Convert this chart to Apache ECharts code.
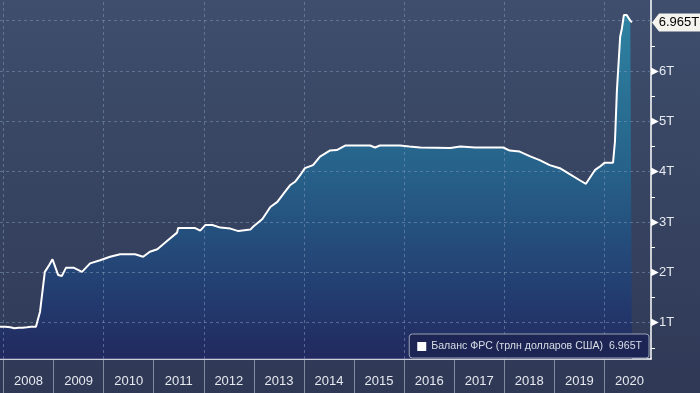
<!DOCTYPE html>
<html>
<head>
<meta charset="utf-8">
<script src="https://cdn.jsdelivr.net/npm/echarts@6/dist/echarts.min.js"></script>
<style>
html,body{margin:0;padding:0;background:#36425f;}
#c{width:700px;height:393px;}
</style>
</head>
<body>
<div id="c"></div>
<script>
// Fed balance sheet, trillions USD
const dates = [
  "2007-12-05","2008-01-15","2008-02-20","2008-03-20","2008-04-20","2008-05-20","2008-06-20","2008-07-20","2008-08-25",
  "2008-09-24","2008-10-29","2008-12-01","2008-12-24","2009-02-03","2009-03-03","2009-04-01","2009-05-30","2009-07-27",
  "2009-09-24","2009-12-06","2010-02-17","2010-05-01","2010-08-18","2010-10-16","2010-12-04","2011-01-27","2011-04-10",
  "2011-06-20","2011-06-28","2011-10-30","2011-12-06","2012-01-12","2012-03-03","2012-05-01","2012-07-13","2012-09-10",
  "2012-12-06","2012-12-28","2013-03-04","2013-05-01","2013-06-21","2013-08-15","2013-09-21","2013-10-28","2013-12-04",
  "2014-01-08","2014-03-08","2014-04-28","2014-07-08","2014-08-28","2014-10-28","2015-04-28","2015-06-03","2015-07-08",
  "2015-12-03","2016-02-08","2016-04-28","2016-12-03","2017-02-15","2017-06-03","2017-12-24","2018-02-10","2018-04-23",
  "2018-07-05","2018-09-16","2018-11-28","2019-02-10","2019-04-23","2019-07-05","2019-08-19","2019-10-23","2019-11-28",
  "2020-01-03","2020-03-04","2020-03-18","2020-04-01","2020-04-25","2020-05-08","2020-05-22","2020-06-12","2020-06-26",
  "2020-07-08","2020-07-20"
];
const values = [
  0.92,0.92,0.91,0.89,0.90,0.90,0.91,0.92,0.92,
  1.22,2.01,2.15,2.26,1.95,1.93,2.09,2.09,2.01,
  2.18,2.24,2.31,2.36,2.36,2.31,2.41,2.46,2.63,
  2.79,2.88,2.88,2.83,2.94,2.94,2.89,2.87,2.82,
  2.85,2.91,3.06,3.30,3.40,3.60,3.73,3.80,3.93,
  4.07,4.13,4.30,4.42,4.43,4.52,4.52,4.48,4.52,
  4.52,4.50,4.48,4.47,4.50,4.48,4.48,4.42,4.40,
  4.31,4.23,4.13,4.07,3.95,3.83,3.76,4.03,4.10,
  4.18,4.18,4.60,5.60,6.68,6.85,7.11,7.11,7.05,
  7.00,6.965
];
const seriesName = "Баланс ФРС (трлн долларов США)";
const lastLabel = "6.965T";
const yearTicks = [2008,2009,2010,2011,2012,2013,2014,2015,2016,2017,2018,2019,2020];
const gridYears = [2008,2010,2012,2014,2016,2018,2020];
const yLabelValues = [1,2,3,4,5,6];
const yGridValues = [1,2,3,4,5,6,7];
const yMinorTicks = [0.5,1.5,2.5,3.5,4.5,5.5,6.5];

function toYear(s){
  const d = new Date(s + "T00:00:00Z");
  const y = d.getUTCFullYear();
  const a = Date.UTC(y,0,1), b = Date.UTC(y+1,0,1);
  return y + (d.getTime() - a) / (b - a);
}
const points = dates.map((d,i) => [toYear(d), values[i]]);
const lastPoint = points[points.length - 1];
const X_MIN = 2007.93, X_MAX = 2020.93;
const FONT = "Liberation Sans";

const chart = echarts.init(document.getElementById('c'));
chart.setOption({
  animation: false,
  backgroundColor: {type:'linear', x:0, y:0, x2:0, y2:1, colorStops:[
    {offset:0, color:'#3e4e6c'}, {offset:1, color:'#2f3956'}]},
  textStyle: {fontFamily: FONT},
  grid: {left:0, right:49, top:0, bottom:34, containLabel:false},
  xAxis: {
    type:'value', min:X_MIN, max:X_MAX,
    axisLine:{show:true, onZero:false, lineStyle:{color:'#ffffff', width:1.5}},
    axisTick:{show:true, customValues: yearTicks, length:34, lineStyle:{color:'rgba(195,205,220,0.55)', width:1}},
    axisLabel:{show:true, customValues: yearTicks.map(y => y + 0.5), formatter: v => String(Math.floor(v)),
      color:'#e6e9ef', fontSize:13, margin:16, fontFamily:FONT},
    splitLine:{show:false}
  },
  yAxis: {
    type:'value', position:'right', min:0.28, max:7.41,
    axisLine:{show:true, lineStyle:{color:'#ffffff', width:1.5}},
    axisTick:{show:true, customValues: yMinorTicks, length:4, lineStyle:{color:'#ffffff', width:1}},
    axisLabel:{show:true, customValues: yLabelValues, margin:0,
      formatter: v => '{t|▶}' + v + 'T',
      color:'#e6e9ef', fontSize:13, fontFamily:FONT,
      rich:{t:{fontSize:10, color:'#ffffff', padding:[0,0,0,0]}}},
    splitLine:{show:false}
  },
  legend: {
    show:true, right:51, bottom:35, orient:'horizontal', z:20,
    backgroundColor:'#1c2553', borderColor:'#9aa3b4', borderWidth:1, borderRadius:3,
    padding:[7,7,6,8], itemWidth:9, itemHeight:9, icon:'rect',
    formatter: n => n + '  ' + lastLabel,
    textStyle:{color:'#d9dde5', fontSize:10.6, fontFamily:FONT},
    data:[{name: seriesName, icon:'rect', itemStyle:{color:'#ffffff'}}]
  },
  series: [
    {
      type:'line', name:'area', data: points, showSymbol:false, z:1, silent:true,
      lineStyle:{width:0},
      areaStyle:{origin:'start', color:{type:'linear', x:0, y:0, x2:0, y2:1, colorStops:[
        {offset:0, color:'#2799b8'}, {offset:0.45, color:'#1f6e9b'},
        {offset:0.82, color:'#1c3b79'}, {offset:1, color:'#1b2160'}]}},
      markLine:{
        silent:true, symbol:['none','none'], label:{show:false}, animation:false,
        lineStyle:{color:'rgba(125,150,185,0.55)', type:[3,3], width:1},
        data: gridYears.map(y => ({xAxis:y})).concat(yGridValues.map(v => ({yAxis:v})))
      }
    },
    {
      type:'line', name: seriesName, data: points, showSymbol:false, z:10, clip:false,
      lineStyle:{color:'#ffffff', width:2}, itemStyle:{color:'#ffffff'},
      markPoint:{
        silent:true, animation:false,
        symbol:'path://M0,9 L7,0 L48,0 L48,18 L7,18 Z', symbolSize:[48,18], symbolKeepAspect:false,
        symbolOffset:[25,0],
        itemStyle:{color:'#f4f3ee'},
        label:{show:true, position:'inside', offset:[3,0], color:'#000000', fontSize:13, fontFamily:FONT,
          formatter: () => lastLabel},
        data:[{coord:[X_MAX, lastPoint[1]]}]
      }
    }
  ]
});
</script>
</body>
</html>
